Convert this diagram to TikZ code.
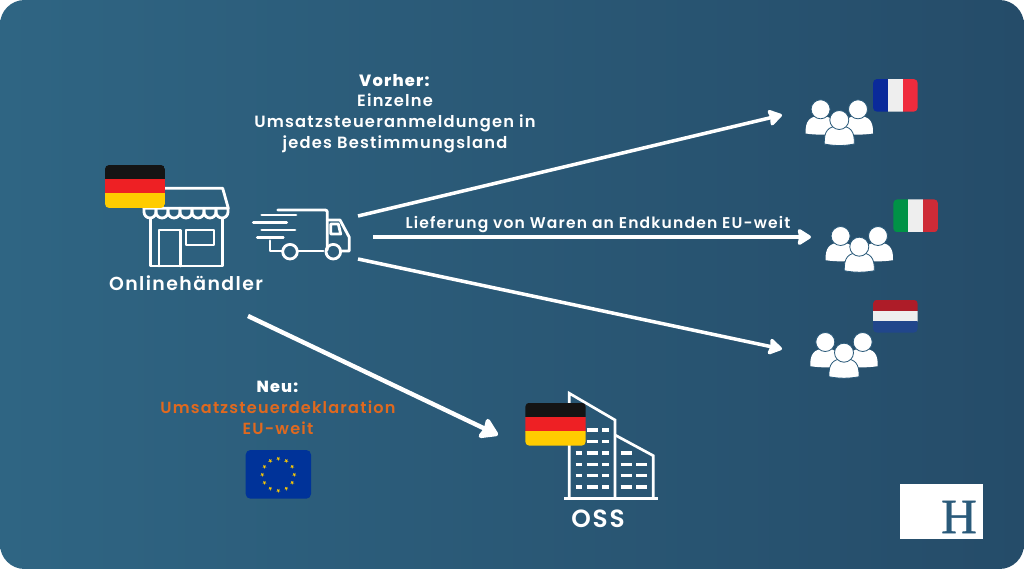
\documentclass[tikz,border=0pt]{standalone}
\usepackage{fontspec}
\setmainfont{Poppins SemiBold}[LetterSpace=7.5, BoldFont={Poppins ExtraBold}]
\newfontfamily\logofont{Liberation Serif}[FakeBold=0.7]
\usetikzlibrary{arrows.meta}

\definecolor{bgleft}{HTML}{2F6583}
\definecolor{bgright}{HTML}{254C69}
\definecolor{bgmid}{HTML}{2A5A7A}
\definecolor{orangetext}{HTML}{E0691F}
\definecolor{flagblack}{HTML}{141414}
\definecolor{flagred}{HTML}{EE2024}
\definecolor{flaggold}{HTML}{FFCC00}
\definecolor{flagpale}{HTML}{EEEEEE}
\definecolor{frblue}{HTML}{0A2A9A}
\definecolor{frred}{HTML}{EF2B3D}
\definecolor{itgreen}{HTML}{009246}
\definecolor{itred}{HTML}{CE2B37}
\definecolor{nlred}{HTML}{AE1C28}
\definecolor{nlblue}{HTML}{21468B}
\definecolor{eublue}{HTML}{003399}

\tikzset{
    flow/.style={draw=white, line width=3pt, -{Stealth[length=13pt,width=16pt,inset=1.5pt,round]}},
    flowbig/.style={draw=white, line width=3.8pt, -{Stealth[length=17pt,width=21pt,inset=2pt,round]}},
    icon/.style={draw=white, line width=2.4pt, line join=round, line cap=round},
    wall/.style={draw=white, line width=2.3pt},
    win/.style={draw=white, line width=2.8pt},
    label/.style={text=white, font=\fontsize{13.9}{17.7}\selectfont, align=center, inner sep=0pt},
    person/.style={fill=white, draw=bgmid, line width=0.7pt},
    people/.pic={
        % side figures first, the middle one on top
        \foreach \d in {-1,1} {
            \fill[white] (\d*18.7-15,13.5) .. controls (\d*18.7-15.5,1) and (\d*18.7-11,-4) .. (\d*18.7,-4)
                .. controls (\d*18.7+11,-4) and (\d*18.7+15.5,1) .. (\d*18.7+15,13.5)
                .. controls (\d*18.7+5,15) and (\d*18.7-5,15) .. (\d*18.7-15,13.5) -- cycle;
            \draw[person] (\d*18.7,-10.7) circle (9.5);
        }
        \draw[person] (-15,24) .. controls (-15.5,11) and (-11,6) .. (0,6)
            .. controls (11,6) and (15.5,11) .. (15,24)
            .. controls (5,26) and (-5,26) .. (-15,24) -- cycle;
        \draw[person] (0,0) circle (9.5);
    }
}

% flag with three stripes on top of each other
\newcommand{\flagrows}[7]{
    \begin{scope}[shift={(#1,#2)},xscale=#3,yscale=#4]
        \clip[rounded corners=3.5pt] (0,0) rectangle (1,1);
        \fill[#5] (0,0) rectangle (1,0.34);
        \fill[#6] (0,0.33) rectangle (1,0.67);
        \fill[#7] (0,0.66) rectangle (1,1);
    \end{scope}
}
% flag with three stripes side by side
\newcommand{\flagcols}[7]{
    \begin{scope}[shift={(#1,#2)},xscale=#3,yscale=#4]
        \clip[rounded corners=3.5pt] (0,0) rectangle (1,1);
        \fill[#5] (0,0) rectangle (0.34,1);
        \fill[#6] (0.33,0) rectangle (0.67,1);
        \fill[#7] (0.66,0) rectangle (1,1);
    \end{scope}
}

\begin{document}
\begin{tikzpicture}[x=0.03cm,y=-0.03cm]
    % Background
    \useasboundingbox (0,0) rectangle (1024,569);
    \shade[left color=bgleft, right color=bgright, rounded corners=21pt] (0,0) rectangle (1024,569);

    % Free ends of the arrows
    \coordinate (truckTop) at (358,216);
    \coordinate (truckMid) at (373,237);
    \coordinate (truckLow) at (358,259);
    \coordinate (shopOut) at (248,316);
    \coordinate (franceIn) at (782,115);
    \coordinate (italyIn) at (811,237);
    \coordinate (dutchIn) at (782,349);
    \coordinate (ossIn) at (498,435);

    \draw[flow] (truckTop) -- (franceIn);
    \draw[flow] (truckMid) -- (italyIn);
    \draw[flow] (truckLow) -- (dutchIn);
    \draw[flowbig] (shopOut) -- (ossIn);

    % Shop
    \draw[icon] (150.7,219) -- (150.7,266) -- (222.7,266) -- (222.7,219);
    \draw[icon] (159,266) -- (159,230) -- (180.7,230) -- (180.7,266);
    \draw[icon] (186,230) rectangle (214,245);
    \draw[icon] (150,188.3) -- (222.7,188.3) -- (228.3,208.3) -- (144,208.3);
    \foreach \i in {0,...,6} {
        \draw[icon] (144+\i*12,208.3) -- (144+\i*12,212) arc[start angle=180, end angle=0, radius=6] -- (156+\i*12,208.3);
    }
    \flagrows{105}{165}{60}{43}{flagblack}{flagred}{flaggold}

    % Truck
    \draw[icon] (277.7,210) -- (325.3,210) .. controls (326.6,210) and (327.3,211) .. (327.3,212) -- (327.3,250);
    \draw[icon] (270,240.7) -- (270,251) -- (281.7,251);
    \draw[icon] (298.3,251) -- (323.3,251);
    \draw[icon] (327.3,220) -- (340,220) -- (349.3,237.3) -- (349.3,251) -- (341.7,251);
    \draw[icon] (330.7,224) -- (338.3,224) -- (340.7,234) -- (330.7,234) -- cycle;
    \draw[icon] (290,251.7) circle (7.3);
    \draw[icon] (333.3,251.7) circle (7.3);
    \foreach \xa/\xb/\y in {261.7/296/215, 253.3/286.7/222.3, 261.7/295/230, 257.3/283.3/237.3} {
        \draw[icon] (\xa,\y) -- (\xb,\y);
    }

    % Customers
    \pic at (839.3,120) {people};
    \pic at (859.3,246.7) {people};
    \pic at (844,352.7) {people};
    \flagcols{873}{79}{44.7}{32.7}{frblue}{flagpale}{frred}
    \flagcols{893.3}{199.3}{44.7}{33}{itgreen}{flagpale}{itred}
    \flagrows{873}{299.7}{44.7}{33}{nlred}{flagpale}{nlblue}

    % OSS building
    \foreach \xa/\xb in {575.7/582.3, 586.7/597.7, 602/609.3} {
        \foreach \y in {430,441.7,453,464.3,475.7,487} {
            \draw[win] (\xa,\y) -- (\xb,\y);
        }
    }
    \foreach \xa/\xb in {620.7/631.7, 636/647.3} {
        \foreach \y in {464.3,475.7,487} {
            \draw[win] (\xa,\y) -- (\xb,\y);
        }
    }
    \draw[win] (620.7,453) -- (631.7,453);
    \draw[wall] (569.3,498.3) -- (569.3,393.3) -- (615,420) -- (615,498.3);
    \draw[wall] (615,435) -- (653.3,455.7) -- (653.3,498.3);
    \draw[wall] (564.3,498.3) -- (658.3,498.3);
    \flagrows{525.3}{402.7}{60.4}{43}{flagblack}{flagred}{flaggold}

    % EU flag
    \fill[eublue, rounded corners=4pt] (245.7,450) rectangle (311,498.7);
    \foreach \a in {0,30,...,330} {
        \fill[flaggold] (278.3,474.7) ++(\a:16) ++(90:2.2) -- ++(-72:4.2) -- ++(144:4.2) -- ++(0:4.2) -- ++(-144:4.2) -- cycle;
    }

    % Texts
    \node[label] (before) at (395,113.5) {\textbf{Vorher:}\\Einzelne\\Umsatzsteueranmeldungen in\\jedes Bestimmungsland};
    \node[label, font=\fontsize{13.27}{14}\selectfont] (delivery) at (598,225) {Lieferung von Waren an Endkunden EU-weit};
    \node[label, font=\fontsize{16.1}{17}\selectfont] (shopName) at (186,283.5) {Onlinehändler};
    \node[label, font=\fontsize{21.2}{20}\selectfont] (ossName) at (598,518.5) {OSS};
    \node[label, font=\fontsize{13.75}{17.7}\selectfont] (new) at (278,408) {\textbf{Neu:}\\\textcolor{orangetext}{Umsatzsteuerdeklaration}\\\textcolor{orangetext}{EU-weit}};

    % Logo
    \node[fill=white, minimum width=83.6*0.03cm, minimum height=55*0.03cm, inner sep=0pt] (logoBox) at (941.5,511.8) {};
    \node[text=bgmid, inner sep=0pt, font=\fontsize{42}{42}\logofont] (logoH) at (959,517) {H};
\end{tikzpicture}
\end{document}
